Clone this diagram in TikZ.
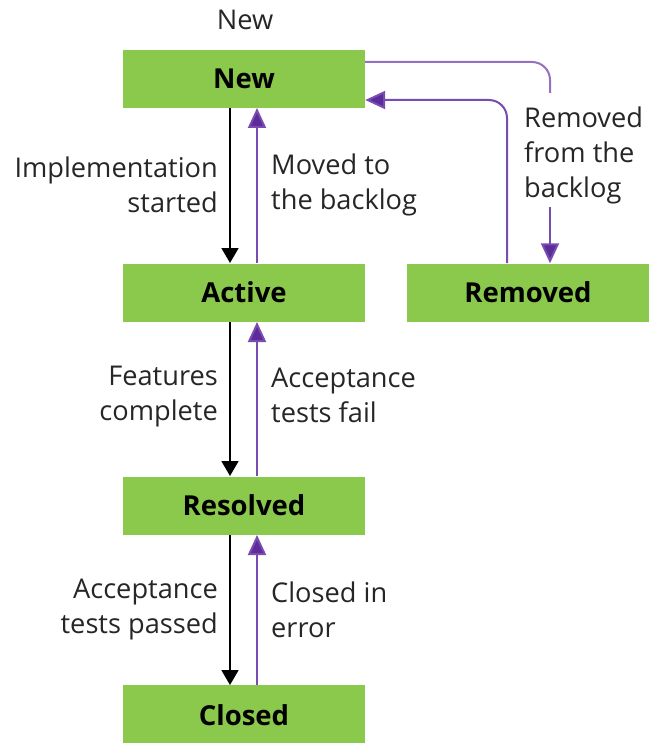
\documentclass[tikz,border=0pt]{standalone}
\usepackage{fontspec}
\setmainfont{Open Sans}
\usetikzlibrary{arrows.meta}
\definecolor{boxgreen}{HTML}{8BC94C}
\definecolor{purp}{HTML}{7A4BB0}
\definecolor{purpdark}{HTML}{5B2C9A}
\begin{document}
\begin{tikzpicture}[x=1pt,y=-1pt,
  state/.style={fill=boxgreen, minimum width=242pt, minimum height=58pt, inner sep=0pt, font=\fontsize{27.5}{32}\selectfont\bfseries, text=black},
  lbl/.style={font=\fontsize{27.2}{35}\selectfont, inner sep=0pt, text=black!85},
  fwd/.style={line width=1.8pt, black, -{Triangle[width=17pt,length=15pt]}},
  back/.style={line width=2pt, purp, -{Triangle[width=18pt,length=20pt,fill=purpdark]}},
  backline/.style={line width=2pt, purp!80},
]
\useasboundingbox (0,0) rectangle (656,743);
\node[state] (new) at (244,79) {New};
\node[state] (active) at (244,292.5) {Active};
\node[state] (removed) at (528,292.5) {Removed};
\node[state] (resolved) at (244,505.5) {Resolved};
\node[state, minimum height=60pt] (closed) at (244,715) {Closed};
\node[lbl] (title) at (245,20) {New};

% main vertical transitions
\draw[fwd] (230,108) -- (230,263);
\draw[back] (257,263) -- (257,108);
\draw[fwd] (230,322) -- (230,476);
\draw[back] (257,476) -- (257,322);
\draw[fwd] (230,535) -- (230,685);
\draw[back] (257,685) -- (257,535);

\node[lbl, align=right, anchor=east] (l1) at (218,185) {Implementation\\started};
\node[lbl, align=left, anchor=west] (l2) at (271,185) {Moved to\\the backlog};
\node[lbl, align=right, anchor=east] (l3) at (218,397) {Features\\complete};
\node[lbl, align=left, anchor=west] (l4) at (271,395) {Acceptance\\tests fail};
\node[lbl, align=right, anchor=east] (l5) at (218,610) {Acceptance\\tests passed};
\node[lbl, align=left, anchor=west] (l6) at (271,610) {Closed in\\error};

% New -> Removed
\coordinate (c1) at (550,93);
\coordinate (c2) at (550,207);
\draw[backline, rounded corners=18pt] (new.east |- 0,62) -- (550,62) -- (c1);
\node[lbl, align=left, anchor=west] (l7) at (524,155) {Removed\\from the\\backlog};
\draw[back] (c2) -- (removed.north -| c2);
% Removed -> New
\draw[back, rounded corners=18pt] (507,263) -- (507,100) -- (new.east |- 0,100);
\end{tikzpicture}
\end{document}
